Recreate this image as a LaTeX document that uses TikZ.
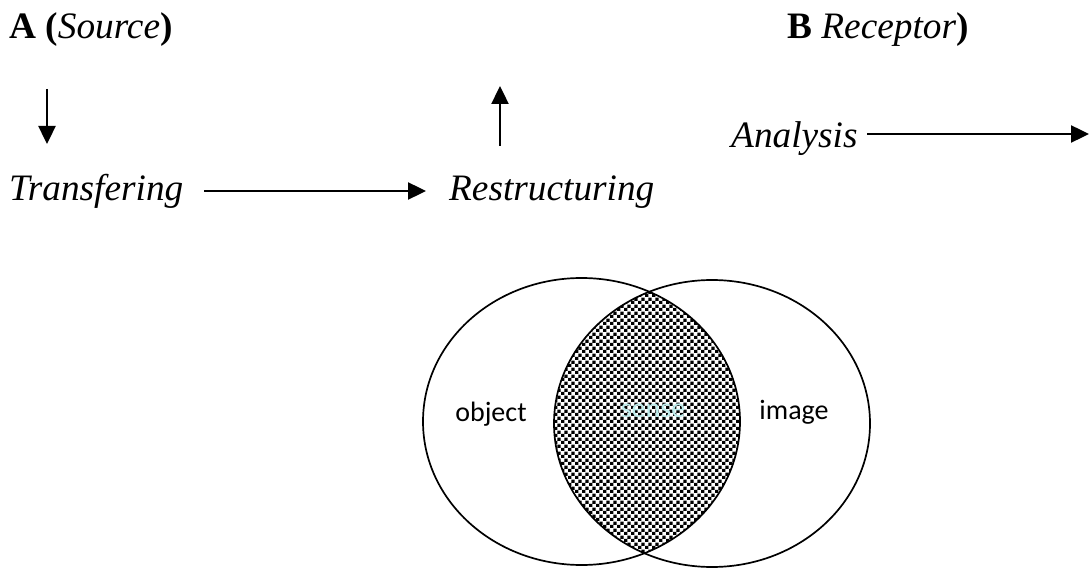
\documentclass[tikz,border=0pt]{standalone}
\usepackage{fontspec}
\setmainfont{Liberation Serif}
\newfontfamily\calfont{Carlito}
\usetikzlibrary{arrows.meta,patterns}
\pgfdeclarepatternformonly{mycheck}{\pgfpointorigin}{\pgfqpoint{7.2pt}{7.2pt}}{\pgfqpoint{7.2pt}{7.2pt}}{%
  \pgfpathrectangle{\pgfpointorigin}{\pgfqpoint{3.6pt}{3.6pt}}%
  \pgfpathrectangle{\pgfqpoint{3.6pt}{3.6pt}}{\pgfqpoint{3.6pt}{3.6pt}}%
  \pgfusepath{fill}}
\definecolor{sensecol}{RGB}{190,236,236}
\tikzset{
  lbl/.style={anchor=base west,inner sep=0pt,font=\fontsize{37.3}{43}\selectfont},
  vlbl/.style={inner sep=0pt,font=\calfont\fontsize{28}{32}\selectfont},
  arr/.style={line width=2.4pt,-{Triangle[length=18pt,width=17pt]}},
  ell/.style={line width=1.7pt}
}
\begin{document}
\begin{tikzpicture}[x=1pt,y=-1pt]
\useasboundingbox (0,0) rectangle (1092,577);
% texts
\node[lbl] (A) at (9,39) {\textbf{A (}\textit{Source}\textbf{)}};
\node[lbl] (B) at (787,39) {\textbf{B} \textit{Receptor}\textbf{)}};
\node[lbl] (T) at (9,201) {\textit{Transfering}};
\node[lbl] (R) at (449,201) {\textit{Restructuring}};
\node[lbl] (An) at (731,148) {\textit{Analysis}};
% arrow coordinates
\coordinate (d1) at (47,89);
\coordinate (d2) at (47,144);
\coordinate (u1) at (500,146);
\coordinate (u2) at (500,86);
\coordinate (h1) at (204,191);
\coordinate (h2) at (426,191);
\coordinate (a1) at (867,134);
\coordinate (a2) at (1089,134);
\draw[arr] (d1) -- (d2);
\draw[arr] (u1) -- (u2);
\draw[arr] (h1) -- (h2);
\draw[arr] (a1) -- (a2);
% venn
\coordinate (c1) at (581.5,421.5);
\coordinate (c2) at (712,423.5);
\begin{scope}
  \clip (c1) ellipse [x radius=158.5, y radius=143.5];
  \fill[pattern=mycheck,pattern color=black] (c2) ellipse [x radius=158, y radius=143.5];
\end{scope}
\draw[ell] (c1) ellipse [x radius=158.5, y radius=143.5];
\draw[ell] (c2) ellipse [x radius=158, y radius=143.5];
\node[vlbl] (obj) at (491,414) {object};
\node[vlbl] (img) at (794,412) {image};
\node[vlbl,text=sensecol] (sense) at (653,411) {sense};
\end{tikzpicture}
\end{document}
